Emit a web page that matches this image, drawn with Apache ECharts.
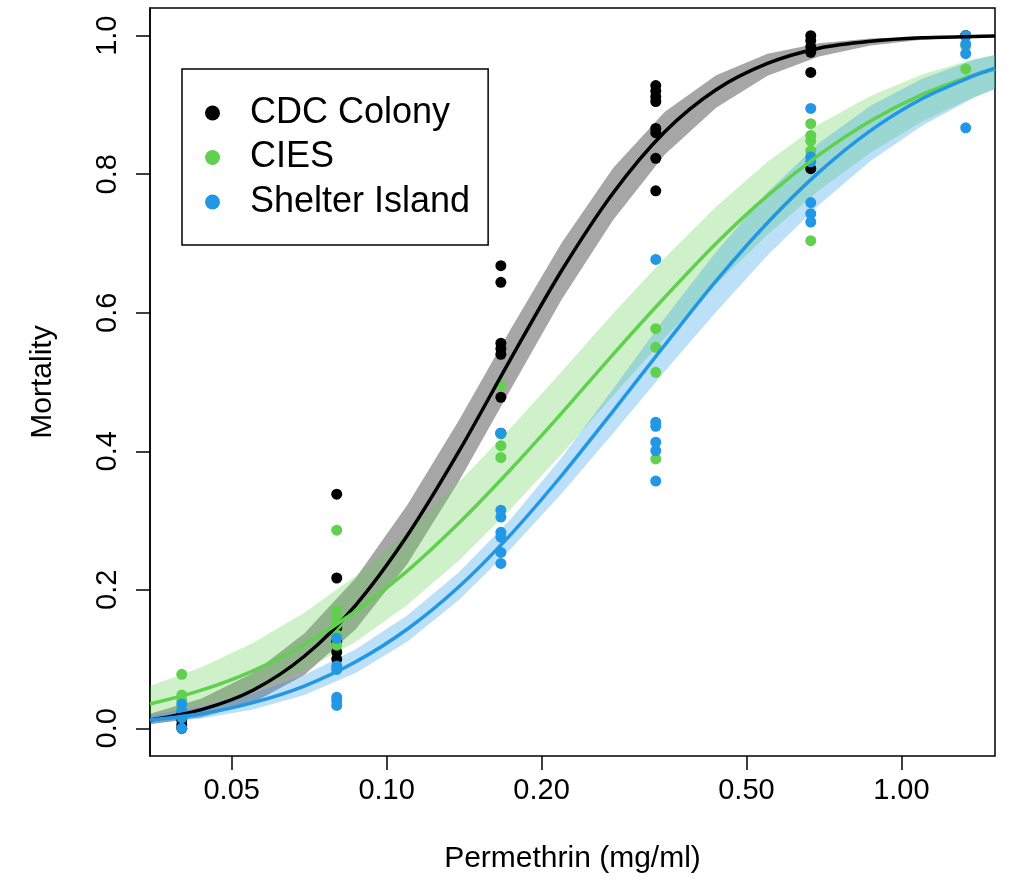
<!DOCTYPE html>
<html>
<head>
<meta charset="utf-8">
<script src="https://cdn.jsdelivr.net/npm/echarts@6/dist/echarts.min.js"></script>
<style>
  html, body { margin: 0; padding: 0; background: #fff; }
  #chart { width: 1010px; height: 883px; }
</style>
</head>
<body>
<div id="chart"></div>
<script>
// doses tested (mg/ml) and observed mortality per replicate
var doses = [0.04, 0.08, 0.1667, 0.3333, 0.6667, 1.3333];
var cdcObs = [
	[0.0, 0.005, 0.012, 0.02],
	[0.338, 0.217, 0.145, 0.125, 0.11, 0.10],
	[0.668, 0.644, 0.556, 0.548, 0.540, 0.478, 0.426],
	[0.928, 0.920, 0.912, 0.905, 0.866, 0.860, 0.823, 0.776],
	[1.0, 0.993, 0.984, 0.976, 0.947, 0.808],
	[1.0, 1.0, 1.0]
];
var ciesObs = [
	[0.078, 0.048, 0.040, 0.030],
	[0.286, 0.17, 0.16, 0.15, 0.135, 0.12],
	[0.495, 0.425, 0.408, 0.391],
	[0.577, 0.550, 0.514, 0.389],
	[0.873, 0.856, 0.848, 0.834, 0.704],
	[1.0, 0.985, 0.952]
];
var siObs = [
	[0.035, 0.025, 0.015, 0.0],
	[0.13, 0.09, 0.085, 0.045, 0.04, 0.033],
	[0.426, 0.315, 0.305, 0.283, 0.276, 0.254, 0.238],
	[0.677, 0.442, 0.436, 0.413, 0.401, 0.357],
	[0.895, 0.825, 0.818, 0.759, 0.743, 0.731],
	[1.0, 0.988, 0.974, 0.867]
];

// fitted curves with confidence band, read at these doses
var fitDose = [0.0347, 0.0437, 0.0550, 0.0692, 0.0871, 0.1096, 0.1380, 0.1738, 0.2188, 0.2754, 0.3467, 0.4365, 0.5495, 0.6918, 0.8710, 1.0965, 1.3804, 1.52];
var cdcFit = [0.012, 0.027, 0.055, 0.104, 0.178, 0.278, 0.399, 0.532, 0.661, 0.773, 0.861, 0.922, 0.960, 0.982, 0.992, 0.997, 0.999, 0.9994];
var cdcHi  = [0.021, 0.043, 0.080, 0.137, 0.217, 0.322, 0.444, 0.575, 0.701, 0.809, 0.890, 0.943, 0.974, 0.989, 0.996, 0.999, 1.0, 1.0];
var cdcLo  = [0.006, 0.016, 0.037, 0.077, 0.143, 0.237, 0.356, 0.488, 0.619, 0.734, 0.828, 0.896, 0.942, 0.970, 0.986, 0.994, 0.998, 0.998];
var ciesFit = [0.035, 0.055, 0.083, 0.121, 0.169, 0.227, 0.296, 0.373, 0.455, 0.540, 0.622, 0.700, 0.769, 0.828, 0.877, 0.915, 0.943, 0.952];
var ciesHi  = [0.061, 0.088, 0.123, 0.167, 0.220, 0.283, 0.355, 0.433, 0.515, 0.599, 0.679, 0.753, 0.818, 0.872, 0.913, 0.944, 0.966, 0.972];
var ciesLo  = [0.019, 0.033, 0.054, 0.084, 0.125, 0.178, 0.242, 0.316, 0.396, 0.480, 0.563, 0.641, 0.713, 0.777, 0.831, 0.876, 0.911, 0.923];
var siFit = [0.012, 0.021, 0.037, 0.061, 0.096, 0.143, 0.204, 0.279, 0.365, 0.458, 0.553, 0.646, 0.730, 0.803, 0.863, 0.909, 0.942, 0.953];
var siHi  = [0.019, 0.031, 0.050, 0.077, 0.114, 0.163, 0.225, 0.301, 0.391, 0.490, 0.592, 0.688, 0.774, 0.845, 0.899, 0.938, 0.965, 0.972];
var siLo  = [0.007, 0.014, 0.027, 0.048, 0.080, 0.125, 0.185, 0.258, 0.339, 0.426, 0.515, 0.601, 0.683, 0.756, 0.819, 0.870, 0.910, 0.923];

var xTicks = [0.05, 0.1, 0.2, 0.5, 1];
var yTicks = [0, 0.2, 0.4, 0.6, 0.8, 1];
var yMin = -0.04, yMax = 1.04;

var groups = [
	{ name: 'CDC Colony', color: '#000000', band: 'rgba(0,0,0,0.35)', obs: cdcObs, fit: cdcFit, lo: cdcLo, hi: cdcHi },
	{ name: 'CIES', color: '#61D04F', band: 'rgba(97,208,79,0.3)', obs: ciesObs, fit: ciesFit, lo: ciesLo, hi: ciesHi },
	{ name: 'Shelter Island', color: '#2297E6', band: 'rgba(34,151,230,0.3)', obs: siObs, fit: siFit, lo: siLo, hi: siHi }
];

var font = 'Liberation Sans, Arial, sans-serif';
var chart = echarts.init(document.getElementById('chart'));

function bandSeries(g) {
	return {
		name: g.name + ' band',
		type: 'custom',
		silent: true,
		data: [[fitDose[0], g.hi[0]]],
		encode: { x: 0, y: 1 },
		renderItem: function(params, api) {
			var pts = [];
			for (var i = 0; i < fitDose.length; i++) {
				pts.push(api.coord([fitDose[i], g.hi[i]]));
			}
			for (var j = fitDose.length - 1; j >= 0; j--) {
				pts.push(api.coord([fitDose[j], g.lo[j]]));
			}
			return { type: 'polygon', shape: { points: pts }, style: { fill: g.band } };
		}
	};
}

var series = [];
groups.forEach(function(g) {
	series.push(bandSeries(g));
	series.push({
		name: g.name + ' fit',
		type: 'line',
		smooth: 0.3,
		showSymbol: false,
		silent: true,
		lineStyle: { color: g.color, width: 3.5 },
		data: fitDose.map(function(d, i) { return [d, g.fit[i]]; })
	});
	var pts = [];
	g.obs.forEach(function(vals, i) {
		vals.forEach(function(v) { pts.push([doses[i], v]); });
	});
	series.push({
		name: g.name,
		type: 'scatter',
		symbol: 'circle',
		symbolSize: 11,
		itemStyle: { color: g.color, opacity: 1 },
		data: pts
	});
});

var option = {
	animation: false,
	backgroundColor: '#fff',
	grid: {
		left: 150, right: 15, top: 8, bottom: 127,
		show: true, borderColor: '#000', borderWidth: 1.5, backgroundColor: 'transparent'
	},
	legend: {
		data: groups.map(function(g) { return g.name; }),
		orient: 'vertical',
		left: 182, top: 69,
		backgroundColor: '#fff',
		borderColor: '#000',
		borderWidth: 1.5,
		borderRadius: 0,
		padding: [22, 18, 21, 23],
		itemGap: 0.5,
		itemWidth: 15,
		itemHeight: 15,
		icon: 'circle',
		selectedMode: false,
		textStyle: { fontSize: 36, fontFamily: font, color: '#000', lineHeight: 44, padding: [0, 0, 0, 25] }
	},
	xAxis: {
		type: 'log',
		logBase: 10,
		min: 0.0347,
		max: 1.52,
		position: 'bottom',
		// sit on the zero of the hidden 0..1 y axis, i.e. the bottom edge of the frame
		axisLine: { show: false, onZero: true, onZeroAxisIndex: 1 },
		splitLine: { show: false },
		minorTick: { show: false },
		axisTick: { show: true, customValues: xTicks.slice(), length: 14, lineStyle: { color: '#000', width: 1.5 } },
		axisLabel: {
			customValues: xTicks.slice(),
			formatter: function(v) { return Number(v).toFixed(2); },
			fontSize: 29, fontFamily: font, color: '#000', margin: 20
		},
		name: 'Permethrin (mg/ml)',
		nameLocation: 'middle',
		nameGap: 88,
		nameTextStyle: { fontSize: 30, fontFamily: font, color: '#000' }
	},
	yAxis: [{
		type: 'value',
		min: yMin,
		max: yMax,
		position: 'left',
		axisLine: { show: true, onZero: false, lineStyle: { color: '#000', width: 1.5 } },
		splitLine: { show: false },
		axisTick: { show: true, inside: false, customValues: yTicks.slice(), length: 14, lineStyle: { color: '#000', width: 1.5 } },
		axisLabel: {
			customValues: yTicks.slice(),
			formatter: function(v) { return Number(v).toFixed(1); },
			rotate: 90,
			fontSize: 29, fontFamily: font, color: '#000', margin: 28
		},
		name: 'Mortality',
		nameLocation: 'middle',
		nameGap: 92,
		nameTextStyle: { fontSize: 30, fontFamily: font, color: '#000' }
	}, {
		type: 'value',
		min: 0,
		max: 1,
		show: false
	}],
	series: series
};

chart.setOption(option);
</script>
</body>
</html>
